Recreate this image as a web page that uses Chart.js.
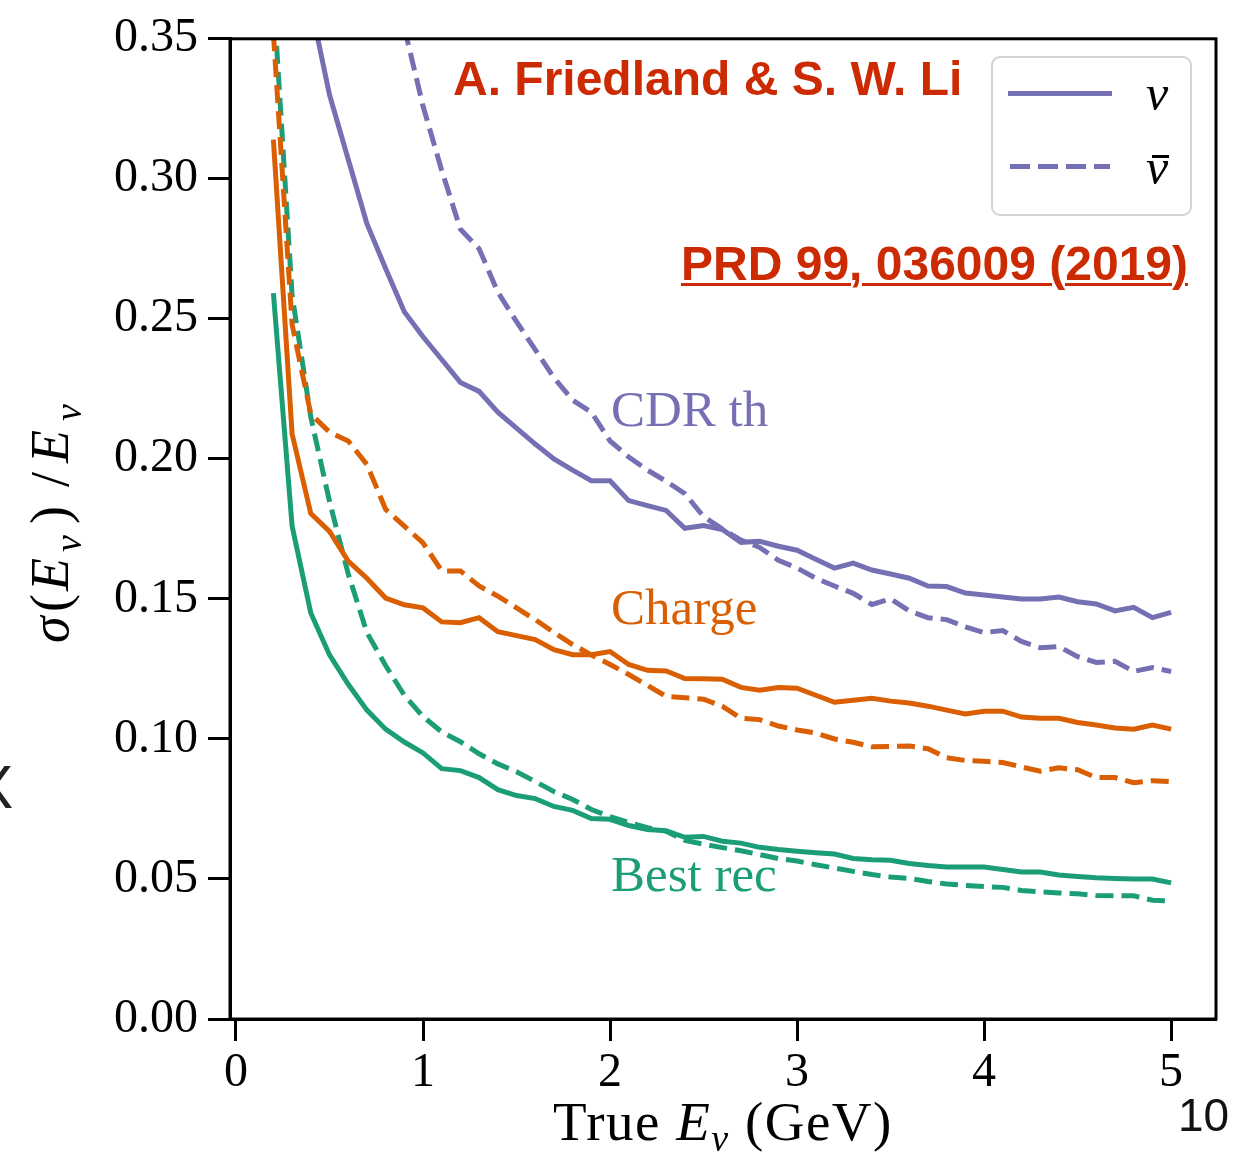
<!DOCTYPE html>
<html>
<head>
<meta charset="utf-8">
<script src="https://cdn.jsdelivr.net/npm/chart.js@4.4.1/dist/chart.umd.min.js"></script>
<style>
  html, body { margin: 0; padding: 0; background: #fff; }
  body { width: 1239px; height: 1156px; position: relative; overflow: hidden; }
  #c { position: absolute; left: 0; top: 0; }
  .t { position: absolute; white-space: nowrap; line-height: 1; }
  .serif { font-family: "Liberation Serif", "Times New Roman", serif; }
  .sans { font-family: "Liberation Sans", Arial, sans-serif; }
  .red { color: #cb2a02; font-weight: bold; font-size: 48px; }
  #ylab { position: absolute; left: 23px; top: 643px; width: 260px; height: 60px; transform-origin: 0 0; transform: rotate(-90deg); }
  #ylab span { position: absolute; line-height: 1; font-family: "Liberation Serif", serif; }
  #legend { position: absolute; left: 991px; top: 56px; width: 201px; height: 160px; box-sizing: border-box; border: 2.5px solid #d3d3d3; border-radius: 9px; background: rgba(255,255,255,0.8); }
</style>
</head>
<body>
<canvas id="c" width="1239" height="1156"></canvas>

<div class="t sans red" style="left:453px; top:55px;">A. Friedland &amp; S. W. Li</div>
<div class="t sans red" style="left:681px; top:240px; text-decoration: underline; text-decoration-thickness: 2.5px; text-underline-offset: 3px;">PRD 99, 036009 (2019)</div>

<div class="t serif" style="left:611px; top:384px; font-size:51px; color:#7570b3;">CDR th</div>
<div class="t serif" style="left:611px; top:582px; font-size:51px; color:#d95f02;">Charge</div>
<div class="t serif" style="left:611px; top:849px; font-size:51px; color:#1b9e77;">Best rec</div>

<div id="legend">
  <svg width="201" height="160" style="position:absolute; left:-2.5px; top:-2.5px;">
    <line x1="17" y1="37.5" x2="121" y2="37.5" stroke="#7570b3" stroke-width="5"/>
    <line x1="19" y1="110.5" x2="119" y2="110.5" stroke="#7570b3" stroke-width="5" stroke-dasharray="20 8"/>
  </svg>
</div>
<div class="t serif" style="left:1146px; top:68px; font-size:50px; font-style:italic;">ν</div>
<div class="t serif" style="left:1146px; top:142px; font-size:50px; font-style:italic;">ν</div>
<div style="position:absolute; left:1152px; top:155px; width:17px; height:2.5px; background:#000;"></div>

<div id="ylab">
  <span style="left:0px; top:0px; font-size:54px; font-style:italic;">σ</span>
  <span style="left:31px; top:0px; font-size:54px;">(</span>
  <span style="left:52px; top:0px; font-size:54px; font-style:italic;">E</span>
  <span style="left:91px; top:26px; font-size:38px; font-style:italic;">ν</span>
  <span style="left:119px; top:0px; font-size:54px;">)</span>
  <span style="left:156px; top:0px; font-size:54px;">/</span>
  <span style="left:180px; top:0px; font-size:54px; font-style:italic;">E</span>
  <span style="left:222px; top:26px; font-size:38px; font-style:italic;">ν</span>
</div>

<div class="t serif" style="left:553px; top:1094px; font-size:55px; letter-spacing:1.5px;">True <i>E</i><span style="font-size:38px; font-style:italic; position:relative; top:11px;">ν</span> (GeV)</div>

<div class="t sans" style="left:-28px; top:756px; font-size:62px; color:#222;">X</div>
<div class="t sans" style="left:1178px; top:1092px; font-size:46px; color:#111;">10</div>

<script>
// ---- data ----
const energyGeV = [0.2,0.3,0.4,0.5,0.6,0.7,0.8,0.9,1.0,1.1,1.2,1.3,1.4,1.5,1.6,1.7,1.8,1.9,2.0,2.1,2.2,2.3,2.4,2.5,2.6,2.7,2.8,2.9,3.0,3.1,3.2,3.3,3.4,3.5,3.6,3.7,3.8,3.9,4.0,4.1,4.2,4.3,4.4,4.5,4.6,4.7,4.8,4.9,5.0];

const cdrNu = [null,null,0.362,0.330,0.307,0.284,0.268,0.2525,0.2436,0.2355,0.2273,0.2241,0.2167,0.211,0.2053,0.200,0.196,0.1922,0.1922,0.1851,0.1833,0.1816,0.1752,0.1762,0.1748,0.1702,0.1706,0.1688,0.1674,0.1642,0.161,0.1628,0.1603,0.1589,0.1574,0.1546,0.1544,0.1521,0.1514,0.1507,0.150,0.150,0.1507,0.149,0.1482,0.1457,0.147,0.1433,0.1452];

const cdrNuBar = [null,null,null,null,null,null,null,0.354,0.326,0.303,0.282,0.275,0.2596,0.249,0.239,0.229,0.221,0.2167,0.2064,0.2007,0.196,0.192,0.1876,0.1794,0.175,0.171,0.1684,0.1638,0.161,0.1574,0.1546,0.152,0.148,0.150,0.1457,0.1433,0.1426,0.140,0.138,0.1387,0.1348,0.1326,0.133,0.1294,0.1273,0.1277,0.1241,0.1255,0.1241];

const chargeNu = [0.314,0.2089,0.1805,0.1741,0.1635,0.1574,0.1503,0.1479,0.1468,0.1418,0.1415,0.1433,0.1383,0.1369,0.1355,0.1319,0.1301,0.1301,0.1312,0.1266,0.1245,0.1243,0.1216,0.1215,0.1213,0.1184,0.1174,0.1184,0.1181,0.1156,0.1131,0.1138,0.1145,0.1135,0.1128,0.1117,0.1103,0.1089,0.1099,0.1099,0.1078,0.1074,0.1074,0.1059,0.105,0.1039,0.1035,0.105,0.1035];

const chargeNuBar = [0.352,0.248,0.216,0.2096,0.2064,0.198,0.182,0.176,0.170,0.160,0.160,0.1546,0.151,0.1468,0.1426,0.138,0.1337,0.130,0.1266,0.123,0.1191,0.1152,0.1147,0.1142,0.1117,0.1074,0.1069,0.1046,0.1032,0.1021,0.100,0.0988,0.0972,0.0973,0.0975,0.0965,0.0933,0.0923,0.092,0.0916,0.090,0.0885,0.0897,0.089,0.0862,0.0862,0.0844,0.0851,0.0848];

const bestNu = [0.2592,0.176,0.145,0.130,0.1195,0.1103,0.1035,0.0989,0.095,0.0894,0.0887,0.0862,0.0819,0.0798,0.0787,0.0759,0.0745,0.0716,0.0713,0.0691,0.0677,0.0672,0.0649,0.0652,0.0635,0.0628,0.0613,0.0605,0.0599,0.0594,0.0589,0.0573,0.0569,0.0567,0.0555,0.0548,0.0543,0.0543,0.0543,0.0534,0.0525,0.0525,0.0514,0.0509,0.0504,0.0502,0.050,0.050,0.0486];

const bestNuBar = [0.366,0.2585,0.2149,0.1848,0.159,0.138,0.1262,0.1156,0.108,0.1025,0.099,0.0947,0.0911,0.0883,0.0848,0.0812,0.0784,0.0748,0.0723,0.0702,0.0683,0.067,0.0638,0.0624,0.0612,0.0601,0.0587,0.0573,0.0564,0.0551,0.0539,0.0527,0.0516,0.0507,0.0502,0.0491,0.0482,0.0477,0.0473,0.047,0.0459,0.0454,0.045,0.0447,0.0441,0.044,0.044,0.0424,0.0422];

const xTickValues = [0, 1, 2, 3, 4, 5];
const yTickValues = [0.00, 0.05, 0.10, 0.15, 0.20, 0.25, 0.30, 0.35];

// ---- chart ----
const PURPLE = '#7570b3', ORANGE = '#d95f02', GREEN = '#1b9e77';
const DASH = [18, 8];

function series(label, values, color, dashed) {
  return {
    label,
    data: energyGeV.map((e, i) => ({ x: e, y: values[i] })),
    borderColor: color,
    backgroundColor: color,
    borderWidth: 5,
    borderDash: dashed ? DASH : [],
    pointRadius: 0,
    tension: 0,
    fill: false,
    clip: 0,
    spanGaps: false
  };
}

const framePlugin = {
  id: 'frame',
  afterDraw(chart) {
    const { ctx, chartArea: a } = chart;
    ctx.save();
    ctx.strokeStyle = '#000';
    ctx.lineWidth = 3;
    ctx.strokeRect(a.left, a.top, a.right - a.left, a.bottom - a.top);
    ctx.restore();
  }
};

const tickFont = { family: '"Liberation Serif", "Times New Roman", serif', size: 48 };

new Chart(document.getElementById('c'), {
  type: 'line',
  data: {
    datasets: [
      series('CDR th ν', cdrNu, PURPLE, false),
      series('CDR th ν̄', cdrNuBar, PURPLE, true),
      series('Charge ν', chargeNu, ORANGE, false),
      series('Charge ν̄', chargeNuBar, ORANGE, true),
      series('Best rec ν', bestNu, GREEN, false),
      series('Best rec ν̄', bestNuBar, GREEN, true)
    ]
  },
  options: {
    responsive: false,
    animation: false,
    devicePixelRatio: 1,
    layout: { padding: { top: 32, right: 23, left: 0, bottom: 0 } },
    plugins: { legend: { display: false }, tooltip: { enabled: false } },
    scales: {
      x: {
        type: 'linear',
        min: -0.032,
        max: 5.24,
        afterFit(s) { s.height = 137; },
        afterBuildTicks(s) { s.ticks = xTickValues.map(v => ({ value: v })); },
        ticks: { font: tickFont, color: '#000', padding: 4, maxRotation: 0, autoSkip: false,
                 callback: v => String(v) },
        grid: { drawOnChartArea: false, drawTicks: true, tickLength: 22, tickWidth: 3, tickColor: '#000' },
        border: { display: true, color: '#000', width: 3 }
      },
      y: {
        min: 0,
        max: 0.35,
        afterFit(s) { s.width = 230; },
        afterBuildTicks(s) { s.ticks = yTickValues.map(v => ({ value: v })); },
        ticks: { font: tickFont, color: '#000', padding: 10, autoSkip: false,
                 callback: v => Number(v).toFixed(2) },
        grid: { drawOnChartArea: false, drawTicks: true, tickLength: 22, tickWidth: 3, tickColor: '#000' },
        border: { display: true, color: '#000', width: 3 }
      }
    }
  },
  plugins: [framePlugin]
});
</script>
</body>
</html>
